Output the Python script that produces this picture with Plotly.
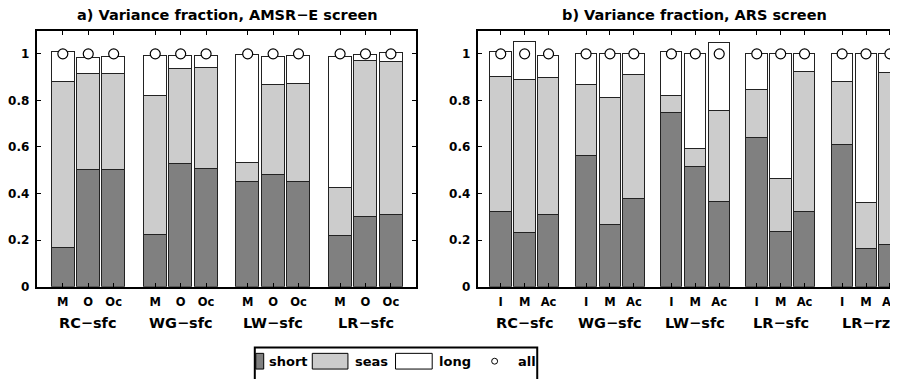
import plotly.graph_objects as go

# The page body adds an 8px margin; lay out in reference pixel coordinates and shift.
OFF = 8
W, H = 898 - OFF, 379 - OFF

# ---------------- data ----------------
groups_a = ["RC−sfc", "WG−sfc", "LW−sfc", "LR−sfc"]
bars_a = ["M", "O", "Oc"]
short_a = [[0.167, 0.505, 0.504], [0.223, 0.529, 0.507], [0.451, 0.483, 0.451], [0.220, 0.300, 0.309]]
seas_a = [[0.714, 0.412, 0.413], [0.597, 0.409, 0.433], [0.084, 0.383, 0.422], [0.207, 0.673, 0.656]]
long_a = [[0.128, 0.067, 0.070], [0.171, 0.054, 0.052], [0.461, 0.121, 0.118], [0.560, 0.026, 0.041]]
all_a = [[1.0, 1.0, 1.0], [1.0, 1.0, 1.0], [1.0, 1.0, 1.0], [1.0, 1.0, 1.0]]

groups_b = ["RC−sfc", "WG−sfc", "LW−sfc", "LR−sfc", "LR−rz"]
bars_b = ["I", "M", "Ac"]
short_b = [[0.321, 0.234, 0.310], [0.563, 0.267, 0.379], [0.747, 0.514, 0.366], [0.639, 0.237, 0.324], [0.612, 0.164, 0.181]]
seas_b = [[0.581, 0.656, 0.587], [0.307, 0.547, 0.533], [0.074, 0.080, 0.391], [0.207, 0.226, 0.602], [0.267, 0.198, 0.740]]
long_b = [[0.107, 0.164, 0.097], [0.130, 0.186, 0.088], [0.187, 0.406, 0.293], [0.154, 0.537, 0.074], [0.121, 0.638, 0.079]]
all_b = [[1.0, 1.0, 1.0], [1.0, 1.0, 1.0], [1.0, 1.0, 1.0], [1.0, 1.0, 1.0], [1.0, 1.0, 1.0]]

yticks = [0, 0.2, 0.4, 0.6, 0.8, 1]
ytick_text = ["0", "0.2", "0.4", "0.6", "0.8", "1"]

components = ["short", "seas", "long"]
colors = {"short": "#808080", "seas": "#cccccc", "long": "#ffffff"}

FONT = "DejaVu Sans"


def px(x):
    return (x - OFF) / W


def py(y):
    return 1 - (y - OFF) / H


fig = go.Figure()


def add_panel(groups, bars, comps, allv, xa, ya, offset, width):
    xs, labels = [], []
    for gi in range(len(groups)):
        for bi in range(len(bars)):
            xs.append(gi + 1 + (bi - 1) * offset)
            labels.append(bars[bi])
    for name, vals in zip(components, comps):
        flat = [v for row in vals for v in row]
        fig.add_trace(go.Bar(
            x=xs, y=flat, width=width, name=name,
            marker=dict(color=colors[name], line=dict(color="#222222", width=1)),
            xaxis=xa, yaxis=ya, showlegend=False))
    flat_all = [v for row in allv for v in row]
    fig.add_trace(go.Scatter(
        x=xs, y=flat_all, mode="markers", name="all",
        marker=dict(symbol="circle", size=10, color="white",
                    line=dict(color="black", width=1.2)),
        xaxis=xa, yaxis=ya, showlegend=False, cliponaxis=True))
    return xs, labels


xs_a, lab_a = add_panel(groups_a, bars_a, [short_a, seas_a, long_a], all_a, "x", "y", 0.275, 0.25)
xs_b, lab_b = add_panel(groups_b, bars_b, [short_b, seas_b, long_b], all_b, "x2", "y2", 0.28, 0.25)

xtickfont = dict(family=FONT, size=11.5, color="black", weight="bold")
ytickfont = dict(family=FONT, size=12, color="black", weight="bold")
ydom = [py(292), py(31)]

common_x = dict(tickmode="array", ticks="inside", ticklen=4, tickcolor="black",
                showline=True, linecolor="black", linewidth=2, mirror="allticks",
                showgrid=False, zeroline=False, tickfont=xtickfont, ticklabelstandoff=4,
                ticklabeloverflow="allow")
common_y = dict(range=[0, 1.1], tickmode="array", tickvals=yticks, ticktext=ytick_text,
                ticks="inside", ticklen=4, tickcolor="black", showline=True,
                linecolor="black", linewidth=2, showgrid=False, zeroline=False,
                tickfont=ytickfont, ticklabelstandoff=3)

fig.update_layout(
    width=W, height=H, margin=dict(l=0, r=0, t=0, b=0),
    paper_bgcolor="white", plot_bgcolor="white", barmode="stack", bargap=0,
    showlegend=False,
    xaxis=dict(domain=[px(33), px(416)], range=[0.443, 4.55], tickvals=xs_a, ticktext=lab_a,
               anchor="y", **common_x),
    yaxis=dict(domain=ydom, anchor="x", mirror="allticks", **common_y),
    xaxis2=dict(domain=[px(478), 1.0], range=[0.451, 5.328], tickvals=xs_b, ticktext=lab_b,
                anchor="y2", **common_x),
    yaxis2=dict(domain=ydom, anchor="x2", mirror=False, **common_y),
)

# titles
titlefont = dict(family=FONT, size=14.5, color="black", weight="bold")
fig.add_annotation(text="a) Variance fraction, AMSR−E screen", x=px(225), y=py(15.5),
                   xref="paper", yref="paper", showarrow=False, font=titlefont,
                   xanchor="center", yanchor="middle")
fig.add_annotation(text="b) Variance fraction, ARS screen", x=px(697), y=py(15.5),
                   xref="paper", yref="paper", showarrow=False, font=titlefont,
                   xanchor="center", yanchor="middle")

# group labels
gfont = dict(family=FONT, size=14.5, color="black", weight="bold")
for gi, g in enumerate(groups_a):
    fig.add_annotation(text=g, x=gi + 1, y=py(329), xref="x", yref="paper",
                       showarrow=False, font=gfont, xanchor="center", yanchor="middle")
for gi, g in enumerate(groups_b):
    fig.add_annotation(text=g, x=gi + 1, y=py(329), xref="x2", yref="paper",
                       showarrow=False, font=gfont, xanchor="center", yanchor="middle")

# legend (manual)
lfont = dict(family=FONT, size=13, color="black", weight="bold")
shapes = [
    dict(type="rect", xref="paper", yref="paper", x0=px(254), x1=px(262), y0=py(360), y1=py(376),
         fillcolor=colors["short"], line=dict(color="black", width=1)),
    dict(type="rect", xref="paper", yref="paper", x0=px(311), x1=px(347), y0=py(360), y1=py(376),
         fillcolor=colors["seas"], line=dict(color="black", width=1)),
    dict(type="rect", xref="paper", yref="paper", x0=px(395), x1=px(432), y0=py(360), y1=py(376),
         fillcolor=colors["long"], line=dict(color="black", width=1)),
    dict(type="circle", xref="paper", yref="paper", x0=px(492), x1=px(498), y0=py(365), y1=py(371),
         fillcolor="white", line=dict(color="black", width=1)),
    dict(type="rect", xref="paper", yref="paper", x0=px(253), x1=px(538), y0=py(354), y1=py(392),
         fillcolor="rgba(0,0,0,0)", line=dict(color="black", width=2)),
]
for s in shapes:
    fig.add_shape(**s)
for txt, xl in [("short", 265), ("seas", 352), ("long", 437), ("all", 517)]:
    fig.add_annotation(text=txt, x=px(xl), y=py(368.5), xref="paper", yref="paper",
                       showarrow=False, font=lfont, xanchor="left", yanchor="middle")

fig.write_html("out.html")
